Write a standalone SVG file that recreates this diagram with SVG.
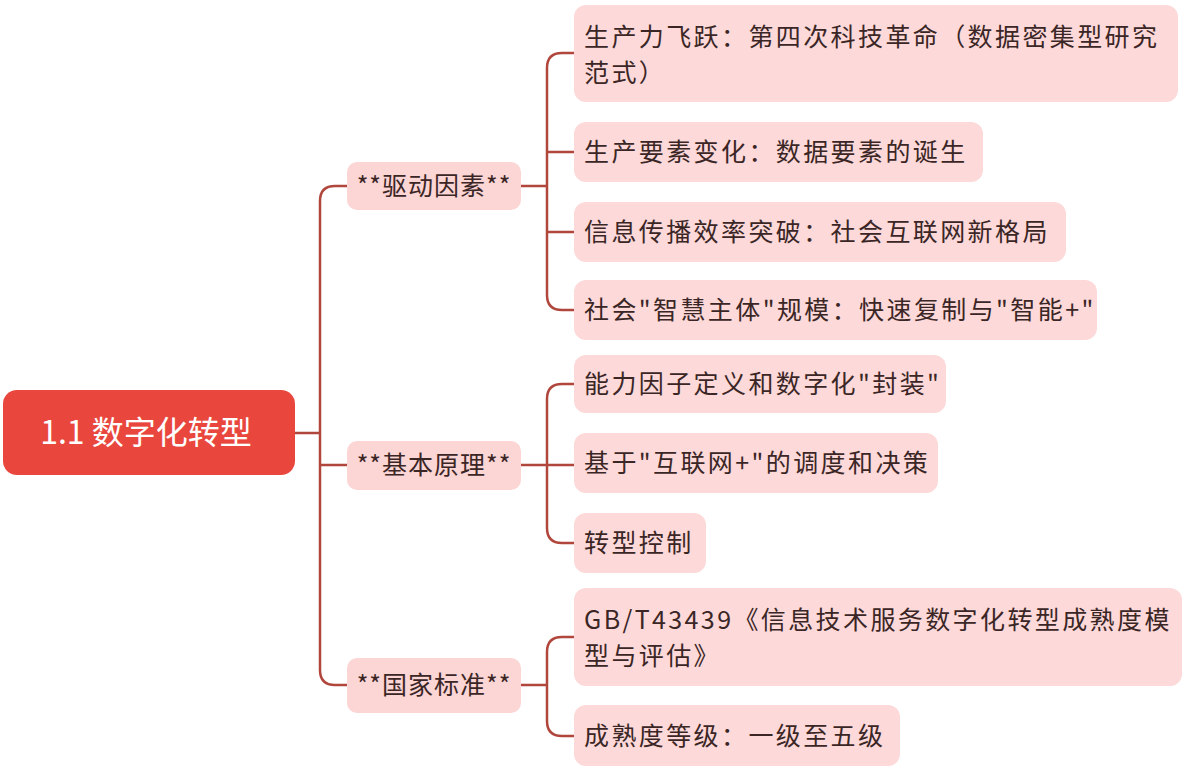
<svg xmlns="http://www.w3.org/2000/svg" width="1186" height="768" viewBox="0 0 1186 768">
<style>
text{font-family:"Noto Sans CJK SC","Noto Sans",sans-serif;}
.leaf rect{fill:#fdd9d9;}
.leaf text{font-size:25px;letter-spacing:2.4px;fill:#3b2626;}
.mid rect{fill:#fcd5d5;}
.mid text{font-size:25px;letter-spacing:1px;fill:#3b2626;}
.c{fill:none;stroke:#b0463c;stroke-width:2.5;}
</style>
<rect width="1186" height="768" fill="#fff"/>
<g id="connectors">
<path class="c" d="M295 433 H320 M347 186 H335 Q320 186 320 201 V670 Q320 685 335 685 H347 M320 465 H347"/>
<path class="c" d="M521 186 H547 M574 53 H562 Q547 53 547 68 V295 Q547 310 562 310 H574 M547 152 H574 M547 232 H574"/>
<path class="c" d="M521 465 H574 M574 384 H562 Q547 384 547 399 V528 Q547 543 562 543 H574"/>
<path class="c" d="M521 685 H547 M574 637 H562 Q547 637 547 652 V721 Q547 736 562 736 H574"/>
</g>
<g id="root"><rect x="3" y="390" width="292" height="85" rx="14" fill="#e9473e"/><text x="146" y="444" font-size="32" fill="#fff" text-anchor="middle">1.1 数字化转型</text></g>
<g id="m1" class="mid"><rect x="347" y="162" width="174" height="48" rx="10"/><text x="434" y="195" text-anchor="middle">**驱动因素**</text></g>
<g id="m2" class="mid"><rect x="347" y="441" width="174" height="49" rx="10"/><text x="434" y="474" text-anchor="middle">**基本原理**</text></g>
<g id="m3" class="mid"><rect x="347" y="658" width="174" height="55" rx="10"/><text x="434" y="694" text-anchor="middle">**国家标准**</text></g>
<g id="l1" class="leaf"><rect x="574" y="5" width="604" height="97" rx="12"/><text x="584" y="46">生产力飞跃：第四次科技革命（数据密集型研究</text><text x="584" y="82">范式）</text></g>
<g id="l2" class="leaf"><rect x="574" y="122" width="409" height="60" rx="12"/><text x="584" y="161">生产要素变化：数据要素的诞生</text></g>
<g id="l3" class="leaf"><rect x="574" y="202" width="492" height="60" rx="12"/><text x="584" y="241">信息传播效率突破：社会互联网新格局</text></g>
<g id="l4" class="leaf"><rect x="574" y="280" width="523" height="60" rx="12"/><text x="584" y="319">社会"智慧主体"规模：快速复制与"智能+"</text></g>
<g id="l5" class="leaf"><rect x="574" y="355" width="372" height="58" rx="12"/><text x="584" y="393">能力因子定义和数字化"封装"</text></g>
<g id="l6" class="leaf"><rect x="574" y="433" width="364" height="60" rx="12"/><text x="584" y="472">基于"互联网+"的调度和决策</text></g>
<g id="l7" class="leaf"><rect x="574" y="513" width="132" height="60" rx="12"/><text x="584" y="552">转型控制</text></g>
<g id="l8" class="leaf"><rect x="574" y="588" width="608" height="98" rx="12"/><text x="584" y="629">GB/T43439《信息技术服务数字化转型成熟度模</text><text x="584" y="665">型与评估》</text></g>
<g id="l9" class="leaf"><rect x="574" y="705" width="326" height="61" rx="12"/><text x="584" y="745">成熟度等级：一级至五级</text></g>
</svg>
